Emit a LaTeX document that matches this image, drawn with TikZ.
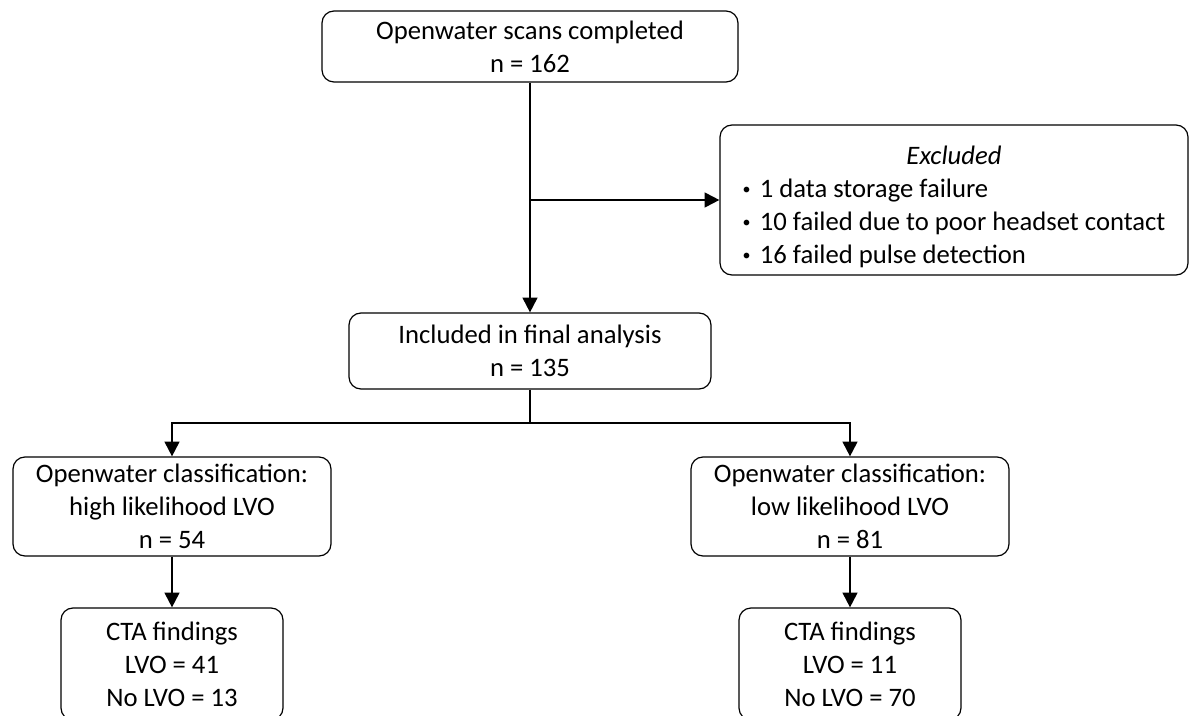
\documentclass[tikz,border=0pt]{standalone}
\usepackage{fontspec}
\setmainfont{Carlito}
\usetikzlibrary{arrows.meta}

\newcommand{\dotitem}{\raisebox{2.5pt}{\fontsize{12}{12}\selectfont •}\hspace{7pt}}

\begin{document}
\begin{tikzpicture}[x=0.75pt,y=-0.75pt,
  box/.style={draw,rounded corners=9pt,align=center,line width=0.9pt,inner sep=2pt,
    font=\fontsize{20}{24.75}\selectfont},
  arr/.style={-{Triangle[length=11pt,width=11pt]},line width=1.5pt},
  link/.style={line width=1pt}]
\useasboundingbox (0,0) rectangle (1192,716);

\node[box,minimum width=312pt,minimum height=53.25pt] (scans) at (530,46.5) {Openwater scans completed\\ n = 162};
\node[box,minimum width=351pt,minimum height=112.5pt] (excl) at (954,200) {\raisebox{-11pt}[0pt][0pt]{%
  \begin{tabular}{@{}l@{}}\multicolumn{1}{@{}c@{}}{\textit{Excluded}}\\
  \dotitem 1 data storage failure\\ \dotitem 10 failed due to poor headset contact\\ \dotitem 16 failed pulse detection\end{tabular}}};
\node[box,minimum width=271.5pt,minimum height=57pt] (incl) at (530,351) {Included in final analysis\\ n = 135};
\node[box,minimum width=238.5pt,minimum height=74.25pt] (high) at (172,506.5) {Openwater classification:\\ high likelihood LVO\\ n = 54};
\node[box,minimum width=238.5pt,minimum height=74.25pt] (low) at (850,506.5) {Openwater classification:\\ low likelihood LVO\\ n = 81};
\node[box,minimum width=166.5pt,minimum height=84pt] (ctahigh) at (172,664) {CTA findings\\ LVO = 41\\ No LVO = 13};
\node[box,minimum width=166.5pt,minimum height=84pt] (ctalow) at (850,664) {CTA findings\\ LVO = 11\\ No LVO = 70};

\coordinate (fork) at (530,423);

\draw[arr] (scans) -- (incl);
\draw[arr] (scans.south |- excl.west) -- (excl.west);
\draw[link] (incl) -- (fork);
\draw[arr] (fork) -| (high);
\draw[arr] (fork) -| (low);
\draw[arr] (high) -- (ctahigh);
\draw[arr] (low) -- (ctalow);
\end{tikzpicture}
\end{document}
